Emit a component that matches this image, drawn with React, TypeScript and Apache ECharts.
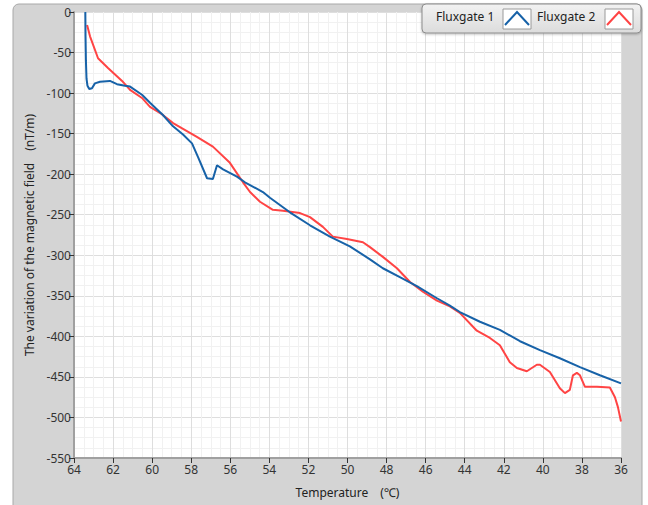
import React, { useEffect, useRef } from "react";
import * as echarts from "echarts";

const xTickLabels = ["64", "62", "60", "58", "56", "54", "52", "50", "48", "46", "44", "42", "40", "38", "36"];

const fg1Temps = [63.42, 63.41, 63.39, 63.36, 63.31, 63.22, 63.08, 62.93, 62.67, 62.16, 61.80, 61.39, 61.13, 60.52, 60.11, 59.45, 58.93, 58.42, 57.96, 57.65, 57.19, 56.89, 56.68, 56.37, 55.66, 55.25, 54.33, 53.97, 52.95, 51.92, 50.90, 49.88, 48.85, 48.19, 47.32, 46.45, 45.42, 44.76, 44.25, 43.22, 42.20, 41.17, 40.15, 39.13, 38.10, 37.08, 36.0];
const fg1Values = [0, -30, -60, -82, -91, -95, -94, -88, -86, -85, -89, -91, -92, -102, -112, -127, -141, -151, -162, -179, -205, -206, -189, -194, -203, -210, -222, -229, -247, -263, -277, -289, -305, -316, -327, -338, -353, -362, -370, -382, -392, -406, -417, -427, -438, -448, -458];

const fg2Temps = [63.33, 63.18, 62.77, 62.26, 61.54, 61.13, 60.52, 60.11, 59.50, 58.93, 57.71, 56.89, 56.02, 55.35, 54.99, 54.48, 53.82, 53.30, 52.43, 51.92, 51.26, 50.75, 50.03, 49.21, 48.85, 48.19, 47.47, 46.80, 46.14, 45.42, 44.76, 44.25, 43.38, 42.71, 42.20, 41.69, 41.33, 40.82, 40.31, 40.15, 39.64, 39.13, 38.87, 38.62, 38.46, 38.26, 38.10, 37.85, 37.23, 36.57, 36.31, 36.16, 36.0];
const fg2Values = [-16, -30, -57, -69, -85, -96, -106, -117, -126, -137, -154, -166, -186, -210, -222, -234, -244, -245, -248, -253, -265, -277, -280, -284, -290, -302, -316, -333, -345, -356, -363, -371, -393, -402, -411, -432, -439, -443, -435, -435, -444, -464, -470, -466, -448, -445, -448, -462, -462, -463, -475, -487, -505];

const seriesNames = ["Fluxgate 1", "Fluxgate 2"];
const xAxisTitle = "Temperature　(℃)";
const yAxisTitle = "The variation of the magnetic field　(nT/m)";

const BLUE = "#1762a8";
const RED = "#ff4444";
const FONT = "'Noto Sans', 'Open Sans', sans-serif";

export default function App() {
  const ref = useRef<HTMLDivElement>(null);

  useEffect(() => {
    if (!ref.current) return;
    const chart = echarts.init(ref.current, null, { renderer: "svg" });
    const d1 = fg1Temps.map((t, i) => [t, fg1Values[i]]);
    const d2 = fg2Temps.map((t, i) => [t, fg2Values[i]]);

    const legendItem = (x: number, boxX: number, color: string, label: string) => [
      {
        type: "text",
        left: x,
        top: 10,
        style: { text: label, fill: "#222", font: `12px ${FONT}` },
        z: 20,
      },
      {
        type: "rect",
        shape: { x: boxX, y: 9, width: 28, height: 20 },
        style: { fill: "#ffffff", stroke: "#9a9a9a", lineWidth: 1 },
        z: 20,
      },
      {
        type: "polyline",
        shape: { points: [[boxX + 2, 25], [boxX + 14, 12], [boxX + 26, 25]] },
        style: { stroke: color, lineWidth: 2, fill: "none" },
        z: 21,
      },
    ];

    chart.setOption({
      animation: false,
      backgroundColor: "#ffffff",
      graphic: [
        {
          type: "rect",
          shape: { x: 13, y: 4, width: 629, height: 520, r: 6 },
          style: { fill: "#d4d4d4", stroke: "#a8a8a8", lineWidth: 1 },
          z: -10,
        },
        {
          type: "rect",
          shape: { x: 422, y: 4, width: 219, height: 29, r: 4 },
          style: {
            fill: new echarts.graphic.LinearGradient(0, 0, 0, 1, [
              { offset: 0, color: "#f2f2f2" },
              { offset: 1, color: "#dcdcdc" },
            ]),
            stroke: "#8c8c8c",
            lineWidth: 1,
            shadowColor: "rgba(0,0,0,0.25)",
            shadowBlur: 2,
            shadowOffsetY: 1,
          },
          z: 19,
        },
        ...legendItem(436, 503, BLUE, seriesNames[0]),
        ...legendItem(537, 605, RED, seriesNames[1]),
      ],
      grid: {
        left: 74,
        right: 27,
        top: 12,
        bottom: 47,
        show: true,
        backgroundColor: "#ffffff",
        borderWidth: 0,
      },
      xAxis: {
        type: "value",
        inverse: true,
        min: 36,
        max: 64,
        interval: 2,
        name: xAxisTitle,
        nameLocation: "middle",
        nameGap: 28,
        nameTextStyle: { color: "#222", fontSize: 12, fontFamily: FONT },
        axisLine: { show: true, onZero: false, lineStyle: { color: "#a0a0a0", width: 2 } },
        axisTick: { show: true, length: 5, lineStyle: { color: "#333" } },
        axisLabel: {
          color: "#333",
          fontSize: 12,
          fontFamily: FONT,
          margin: 5,
          formatter: (v: number) => xTickLabels[xTickLabels.indexOf(String(v))] ?? String(v),
        },
        splitLine: { show: true, lineStyle: { color: "#dedede", width: 1 } },
        minorTick: { show: false, splitNumber: 4 },
        minorSplitLine: { show: true, lineStyle: { color: "#f1f1f1", width: 1 } },
      },
      yAxis: {
        type: "value",
        min: -550,
        max: 0,
        interval: 50,
        name: yAxisTitle,
        nameLocation: "middle",
        nameGap: 39,
        nameTextStyle: { color: "#222", fontSize: 12, fontFamily: FONT },
        axisLine: { show: true, onZero: false, lineStyle: { color: "#a0a0a0", width: 2 } },
        axisTick: { show: true, length: 5, lineStyle: { color: "#333" } },
        axisLabel: { color: "#333", fontSize: 12, fontFamily: FONT, margin: 3 },
        splitLine: { show: true, lineStyle: { color: "#dedede", width: 1 } },
        minorTick: { show: false, splitNumber: 4 },
        minorSplitLine: { show: true, lineStyle: { color: "#f1f1f1", width: 1 } },
      },
      series: [
        {
          name: seriesNames[0],
          type: "line",
          data: d1,
          showSymbol: false,
          symbol: "none",
          lineStyle: { color: BLUE, width: 2 },
          itemStyle: { color: BLUE },
          z: 3,
        },
        {
          name: seriesNames[1],
          type: "line",
          data: d2,
          showSymbol: false,
          symbol: "none",
          lineStyle: { color: RED, width: 2 },
          itemStyle: { color: RED },
          z: 2,
        },
      ],
    });
    return () => chart.dispose();
  }, []);

  return (
    <div
      ref={ref}
      style={{ position: "fixed", left: 0, top: 0, width: 648, height: 505 }}
    />
  );
}
